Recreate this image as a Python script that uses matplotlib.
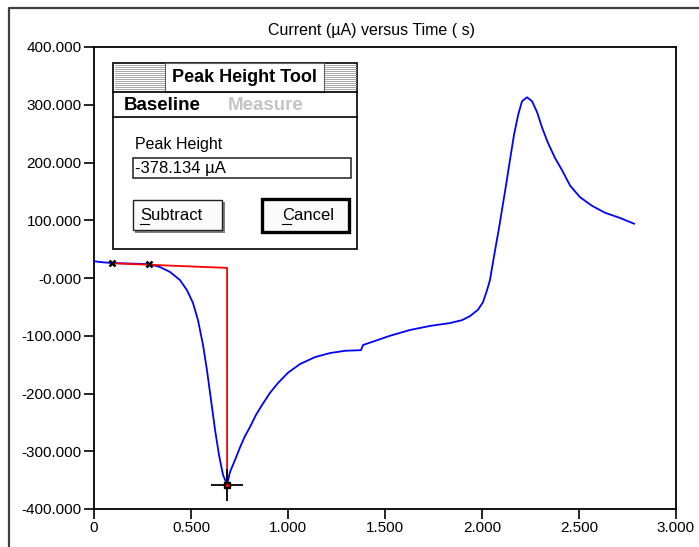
import matplotlib.pyplot as plt
from matplotlib.patches import Rectangle
from matplotlib.lines import Line2D

plt.rcParams['font.family'] = ['Liberation Sans', 'DejaVu Sans']

# current vs time trace
t = [0, 0.05, 0.093, 0.186, 0.284, 0.34, 0.392, 0.443, 0.479, 0.51, 0.536,
     0.562, 0.582, 0.603, 0.624, 0.644, 0.665, 0.686, 0.701, 0.727, 0.753,
     0.778, 0.804, 0.835, 0.866, 0.907, 0.948, 1.0, 1.062, 1.139, 1.216,
     1.294, 1.376, 1.387, 1.448, 1.526, 1.629, 1.732, 1.835, 1.897, 1.938,
     1.979, 2.005, 2.026, 2.041, 2.057, 2.072, 2.088, 2.103, 2.124, 2.144,
     2.165, 2.186, 2.206, 2.232, 2.258, 2.284, 2.309, 2.34, 2.376, 2.412,
     2.454, 2.505, 2.567, 2.634, 2.711, 2.784]
cur = [29, 27, 26, 25, 24, 19, 10.4, -3.5, -21, -43, -73, -116, -159, -211,
       -263, -306, -341, -358, -336, -315, -293, -274, -258, -237, -220, -199,
       -182, -164, -149, -137, -130, -126, -125, -116, -109, -100, -90, -83,
       -78, -73, -66, -55, -42, -21, -3.5, 28, 57, 87, 118, 161, 204, 248,
       282, 306, 313, 306, 287, 261, 234, 208, 187, 160, 140, 125, 113, 104,
       94]

# baseline picked with the tool
base_t = [0.093, 0.284]
base_i = [25.5, 23.7]
peak_t = 0.686
peak_i = -358
base_at_peak = 17.5

xticks = [0, 0.5, 1.0, 1.5, 2.0, 2.5, 3.0]
xlabels = ["0", "0.500", "1.000", "1.500", "2.000", "2.500", "3.000"]
yticks = [400, 300, 200, 100, 0, -100, -200, -300, -400]
ylabels = ["400.000", "300.000", "200.000", "100.000", "-0.000",
           "-100.000", "-200.000", "-300.000", "-400.000"]

W, H = 699, 547
fig = plt.figure(figsize=(W / 100, H / 100), dpi=100)
ax = fig.add_axes([94 / W, 1 - 509 / H, (676 - 94) / W, (509 - 47) / H])


def px(x, y):
    return (x / W, 1 - y / H)


ax.plot(t, cur, color='#0000ff', lw=1.3, zorder=3)
ax.plot([base_t[0], peak_t, peak_t], [base_i[0], base_at_peak, peak_i],
        color='#ff0000', lw=1.3, zorder=4)
ax.plot(base_t, base_i, ls='none', marker='x', color='black', ms=5, mew=1.8,
        zorder=5)
ax.plot([peak_t], [peak_i], ls='none', marker='+', color='black', ms=23,
        mew=1.3, zorder=5)
ax.plot([peak_t], [peak_i], ls='none', marker='s', color='black', ms=5,
        zorder=6)
ax.plot([peak_t], [peak_i], ls='none', marker='o', color='red', ms=1.5,
        zorder=7)

ax.set_xlim(0, 3.0)
ax.set_ylim(-400, 400)
ax.set_xticks(xticks)
ax.set_xticklabels(xlabels)
ax.set_yticks(yticks)
ax.set_yticklabels(ylabels)
ax.tick_params(direction='out', length=7, width=1.2, labelsize=11,
               colors='black', pad=2)
for s in ax.spines.values():
    s.set_linewidth(1.3)

fig.text(*px(371, 30), "Current (µA) versus Time ( s)", ha='center',
         va='center', fontsize=11.5)

# outer window frame
fig.add_artist(Line2D([9 / W, 9 / W, 1.0], [0, 1 - 8 / H, 1 - 8 / H],
                      transform=fig.transFigure, color='#404040', lw=1.6))

# dialog
tf = fig.transFigure


def rect(x0, y0, x1, y1, **kw):
    fig.add_artist(Rectangle(px(x0, y1), (x1 - x0) / W, (y1 - y0) / H,
                             transform=tf, **kw))


def hline(x0, x1, y, **kw):
    fig.add_artist(Line2D([x0 / W, x1 / W], [1 - y / H, 1 - y / H],
                          transform=tf, **kw))


rect(113, 63, 357, 249, facecolor='white', edgecolor='black', lw=1.2, zorder=10)
for yy in range(65, 92, 2):
    hline(115, 165, yy, color='#999999', lw=0.6, zorder=11)
    hline(324, 356, yy, color='#999999', lw=0.6, zorder=11)
rect(165, 63, 324, 92, facecolor='white', edgecolor='#606060', lw=0.8, zorder=11)
hline(113, 357, 92, color='black', lw=1.2, zorder=12)
fig.text(*px(244, 78), "Peak Height Tool", ha='center', va='center',
         fontsize=13, fontweight='bold', zorder=13)
fig.text(*px(124, 106), "Baseline", ha='left', va='center', fontsize=13.5,
         fontweight='bold', zorder=13)
fig.text(*px(228, 106), "Measure", ha='left', va='center', fontsize=13.5,
         fontweight='bold', color='#c4c4c4', zorder=13)
hline(113, 357, 117, color='black', lw=1.2, zorder=12)

fig.text(*px(135, 144), "Peak Height", ha='left', va='center', fontsize=11.5,
         zorder=13)
rect(133, 158, 351, 178, facecolor='white', edgecolor='#303030', lw=1.2,
     zorder=11)
fig.text(*px(135, 168), "-378.134 µA", ha='left', va='center', fontsize=12,
         zorder=13)

# buttons
rect(135, 202, 225, 233, facecolor='#808080', edgecolor='none', zorder=11)
rect(133, 200, 222, 230, facecolor='#fbfbfb', edgecolor='#202020', lw=1.0,
     zorder=12)
fig.text(*px(140, 215), "Subtract", ha='left', va='center', fontsize=12,
         zorder=13)
hline(140, 149, 224, color='black', lw=0.8, zorder=13)
rect(264, 201, 351, 234, facecolor='#808080', edgecolor='none', zorder=11)
rect(262, 199, 349, 232, facecolor='#fbfbfb', edgecolor='black', lw=2.4,
     zorder=12)
fig.text(*px(282, 215), "Cancel", ha='left', va='center', fontsize=12,
         zorder=13)
hline(282, 291, 224, color='black', lw=0.8, zorder=13)

fig.savefig("out.png", dpi=100)
